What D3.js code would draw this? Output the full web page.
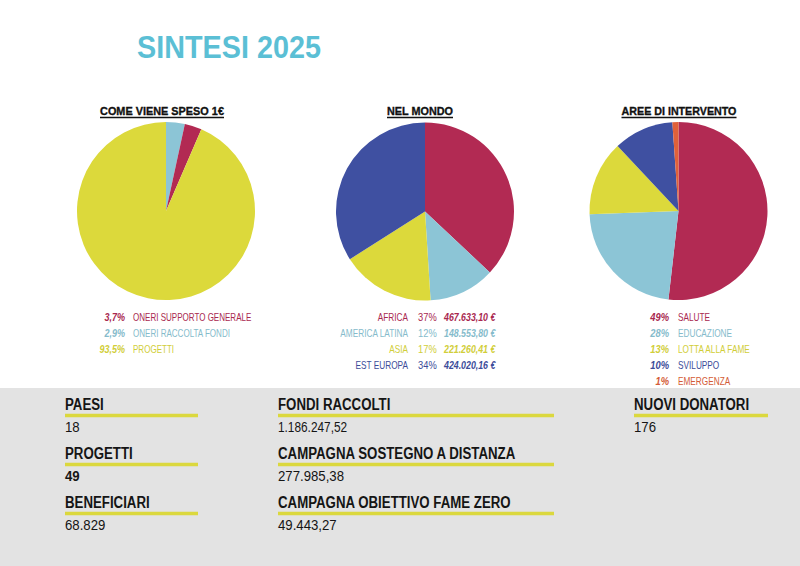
<!DOCTYPE html>
<html>
<head>
<meta charset="utf-8">
<script src="https://cdn.jsdelivr.net/npm/d3@7"></script>
<style>
  html, body { margin: 0; padding: 0; background: #fff; }
  svg { display: block; }
  text { font-family: "Liberation Sans", Arial, sans-serif; }
</style>
</head>
<body>
<svg id="chart" width="800" height="566"></svg>
<script>
// ---- data ----
const titleText = "SINTESI 2025";

// come viene speso 1€ (legend order)
const spesaCategories = ["ONERI SUPPORTO GENERALE", "ONERI RACCOLTA FONDI", "PROGETTI"];
const spesaPctLabels = ["3,7%", "2,9%", "93,5%"];
const spesaSlices = [3.1, 3.4, 93.5];      // slice sizes
const spesaPieOrder = ["ONERI RACCOLTA FONDI", "ONERI SUPPORTO GENERALE", "PROGETTI"];

// nel mondo
const mondoCategories = ["AFRICA", "AMERICA LATINA", "ASIA", "EST EUROPA"];
const mondoPctLabels = ["37%", "12%", "17%", "34%"];
const mondoSlices = [37, 12, 17, 34];
const mondoAmounts = ["467.633,10 €", "148.553,80 €", "221.260,41 €", "424.020,16 €"];

// aree di intervento
const areeCategories = ["SALUTE", "EDUCAZIONE", "LOTTA ALLA FAME", "SVILUPPO", "EMERGENZA"];
const areePctLabels = ["49%", "28%", "13%", "10%", "1%"];
const areeSlices = [51.8, 22.6, 13.6, 10.9, 1.1];

// key figures
const statTitles1 = ["PAESI", "PROGETTI", "BENEFICIARI"];
const statValues1 = ["18", "49", "68.829"];
const statTitles2 = ["FONDI RACCOLTI", "CAMPAGNA SOSTEGNO A DISTANZA", "CAMPAGNA OBIETTIVO FAME ZERO"];
const statValues2 = ["1.186.247,52", "277.985,38", "49.443,27"];
const statTitles3 = ["NUOVI DONATORI"];
const statValues3 = ["176"];

// ---- colours ----
const colorMap = {
  "ONERI SUPPORTO GENERALE": "#b22a53",
  "ONERI RACCOLTA FONDI": "#8cc5d6",
  "PROGETTI": "#dcd93b",
  "AFRICA": "#b22a53",
  "AMERICA LATINA": "#8cc5d6",
  "ASIA": "#dcd93b",
  "EST EUROPA": "#3f50a1",
  "SALUTE": "#b22a53",
  "EDUCAZIONE": "#8cc5d6",
  "LOTTA ALLA FAME": "#dcd93b",
  "SVILUPPO": "#3f50a1",
  "EMERGENZA": "#e0613a"
};
const textColor = d3.scaleOrdinal()
  .domain(Object.keys(colorMap))
  .range(Object.keys(colorMap).map(k => d3.color(colorMap[k]).darker(0.15).formatHex()));

const svg = d3.select("#chart");

// squeeze a text horizontally (no narrow font around), keeping its anchor point
function condense(sel, k) {
  sel.each(function() {
    const t = d3.select(this);
    const x = +t.attr("x"), y = +t.attr("y");
    t.attr("x", null).attr("y", null)
      .attr("transform", `translate(${x},${y}) scale(${k},1)`);
  });
}
function fitWidth(sel, w) {
  sel.each(function() {
    const len = this.getComputedTextLength();
    d3.select(this).call(condense, w / len);
  });
}

// gray band for the figures
svg.append("rect")
  .attr("x", 0).attr("y", 388)
  .attr("width", 800).attr("height", 178)
  .attr("fill", "#e3e3e3");

// main title
svg.append("text")
  .attr("x", 137).attr("y", 58)
  .attr("font-size", 31).attr("font-weight", "bold")
  .attr("fill", "#5bbfd5")
  .text(titleText)
  .call(fitWidth, 184);

// ---- pies ----
const radius = 89;
const arc = d3.arc().innerRadius(0).outerRadius(radius);

function drawPie(cx, cy, cats, values, order, subtitle, subX, subW) {
  const g = svg.append("g").attr("transform", `translate(${cx},${cy})`);
  const rows = cats.map((c, i) => ({ cat: c, value: values[i] }));
  rows.sort((a, b) => order.indexOf(a.cat) - order.indexOf(b.cat));
  const pie = d3.pie().sort(null).value(d => d.value);
  g.selectAll("path")
    .data(pie(rows))
    .join("path")
    .attr("d", arc)
    .attr("fill", d => colorMap[d.data.cat]);

  svg.append("text")
    .attr("x", subX).attr("y", 115)
    .attr("text-anchor", "middle")
    .attr("font-size", 11.5).attr("font-weight", "bold")
    .attr("fill", "#111").attr("stroke", "#111").attr("stroke-width", 0.35)
    .text(subtitle)
    .call(fitWidth, subW);
  svg.append("line")
    .attr("x1", subX - subW / 2).attr("x2", subX + subW / 2)
    .attr("y1", 117.5).attr("y2", 117.5)
    .attr("stroke", "#111").attr("stroke-width", 1.3);
}

drawPie(166, 211, spesaCategories, spesaSlices, spesaPieOrder, "COME VIENE SPESO 1€", 162, 124);
drawPie(425, 211.5, mondoCategories, mondoSlices, mondoCategories, "NEL MONDO", 420, 66);
drawPie(678.5, 211, areeCategories, areeSlices, areeCategories, "AREE DI INTERVENTO", 679, 115);

// ---- legends ----
const rowY = d3.scalePoint().domain(d3.range(5)).range([321, 385]);

// pie 1 legend
const lg1 = svg.append("g");
lg1.selectAll("text.pct").data(spesaCategories).join("text")
  .attr("class", "pct")
  .attr("x", 125).attr("y", (d, i) => rowY(i))
  .attr("text-anchor", "end")
  .attr("font-size", 11).attr("font-weight", "bold").attr("font-style", "italic")
  .attr("fill", d => textColor(d))
  .text((d, i) => spesaPctLabels[i])
  .call(condense, 0.82);
lg1.selectAll("text.lab").data(spesaCategories).join("text")
  .attr("class", "lab")
  .attr("x", 133).attr("y", (d, i) => rowY(i))
  .attr("font-size", 11)
  .attr("fill", d => textColor(d))
  .text(d => d)
  .call(condense, 0.73);

// pie 2 legend
const lg2 = svg.append("g");
lg2.selectAll("text.lab").data(mondoCategories).join("text")
  .attr("class", "lab")
  .attr("x", 408).attr("y", (d, i) => rowY(i))
  .attr("text-anchor", "end")
  .attr("font-size", 11)
  .attr("fill", d => textColor(d))
  .text(d => d)
  .call(condense, 0.75);
lg2.selectAll("text.pct").data(mondoCategories).join("text")
  .attr("class", "pct")
  .attr("x", 418).attr("y", (d, i) => rowY(i))
  .attr("font-size", 11)
  .attr("fill", d => textColor(d))
  .text((d, i) => mondoPctLabels[i])
  .call(condense, 0.85);
lg2.selectAll("text.amt").data(mondoCategories).join("text")
  .attr("class", "amt")
  .attr("x", 444).attr("y", (d, i) => rowY(i))
  .attr("font-size", 11).attr("font-weight", "bold").attr("font-style", "italic")
  .attr("fill", d => textColor(d))
  .text((d, i) => mondoAmounts[i])
  .call(condense, 0.8);

// pie 3 legend
const lg3 = svg.append("g");
lg3.selectAll("text.pct").data(areeCategories).join("text")
  .attr("class", "pct")
  .attr("x", 669).attr("y", (d, i) => rowY(i))
  .attr("text-anchor", "end")
  .attr("font-size", 11).attr("font-weight", "bold").attr("font-style", "italic")
  .attr("fill", d => textColor(d))
  .text((d, i) => areePctLabels[i])
  .call(condense, 0.85);
lg3.selectAll("text.lab").data(areeCategories).join("text")
  .attr("class", "lab")
  .attr("x", 678).attr("y", (d, i) => rowY(i))
  .attr("font-size", 11)
  .attr("fill", d => textColor(d))
  .text(d => d)
  .call(condense, 0.75);

// ---- key figures ----
const statY = d3.scaleLinear().domain([0, 1]).range([410, 459]);

function drawStats(x, lineW, titles, values) {
  const g = svg.append("g");
  titles.forEach((t, i) => {
    const y = statY(i);
    g.append("text")
      .attr("x", x).attr("y", y)
      .attr("font-size", 17).attr("font-weight", "bold")
      .attr("fill", "#151515")
      .text(t)
      .call(condense, 0.78);
    g.append("line")
      .attr("x1", x).attr("x2", x + lineW)
      .attr("y1", y + 5.5).attr("y2", y + 5.5)
      .attr("stroke", "#dbd83e").attr("stroke-width", 3.5);
    g.append("text")
      .attr("x", x).attr("y", y + 22)
      .attr("font-size", 15)
      .attr("font-weight", values[i] === "49" ? "bold" : "normal")
      .attr("fill", "#151515")
      .text(values[i])
      .call(condense, values[i].startsWith("1.") ? 0.79 : 0.88);
  });
}

drawStats(65, 133, statTitles1, statValues1);
drawStats(278, 276, statTitles2, statValues2);
drawStats(634, 134, statTitles3, statValues3);
</script>
</body>
</html>
